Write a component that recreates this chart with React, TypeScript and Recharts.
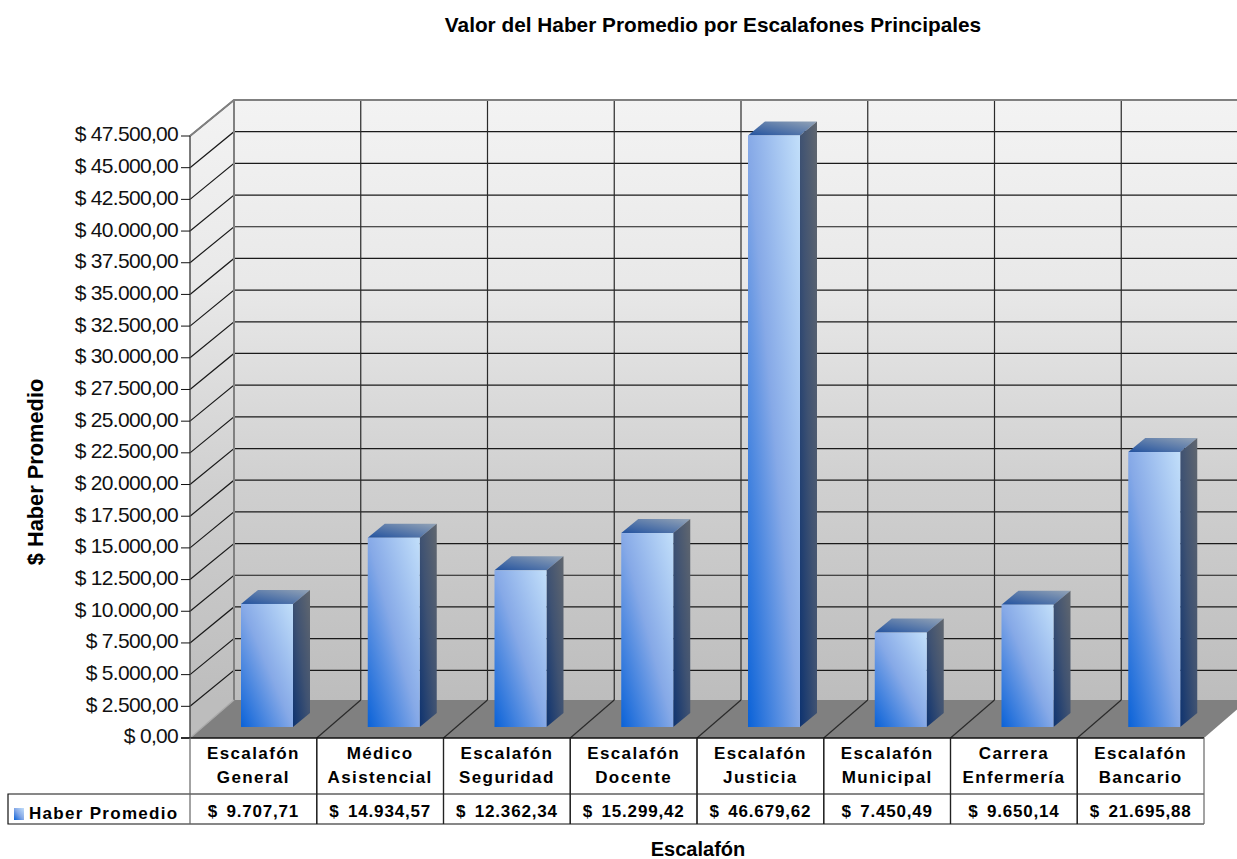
import { Bar, BarChart, CartesianGrid, XAxis, YAxis } from "recharts"

const categories = [
  "Escalafón General",
  "Médico Asistencial",
  "Escalafón Seguridad",
  "Escalafón Docente",
  "Escalafón Justicia",
  "Escalafón Municipal",
  "Carrera Enfermería",
  "Escalafón Bancario",
]
const haberPromedio = [9707.71, 14934.57, 12362.34, 15299.42, 46679.62, 7450.49, 9650.14, 21695.88]
const yTicks = [
  0, 2500, 5000, 7500, 10000, 12500, 15000, 17500, 20000, 22500, 25000, 27500, 30000, 32500, 35000,
  37500, 40000, 42500, 45000, 47500,
]

const data = categories.map((name, i) => ({ name, value: haberPromedio[i] }))

const FONT = "'Liberation Sans', Arial, sans-serif"
const BAND = 126.75

const money = (v: number) => {
  const [int, dec] = v.toFixed(2).split(".")
  return `${int.replace(/\B(?=(\d{3})+$)/g, ".")},${dec}`
}

// how far the back wall sits from the front plane
const wallDx = 44
const wallDy = -36

function Walls() {
  return (
    <svg width={1237} height={859} style={{ position: "absolute", left: 0, top: 0 }}>
      <defs>
        <linearGradient id="wall" gradientUnits="userSpaceOnUse" x1="0" y1="100" x2="0" y2="700">
          <stop offset="0" stopColor="#f3f3f3" />
          <stop offset="0.3" stopColor="#e9e9e9" />
          <stop offset="0.65" stopColor="#cfcfcf" />
          <stop offset="1" stopColor="#bdbdbd" />
        </linearGradient>
        <linearGradient id="front" x1="0" y1="1" x2="1" y2="0">
          <stop offset="0" stopColor="#0a62d8" />
          <stop offset="0.5" stopColor="#86a9e7" />
          <stop offset="1" stopColor="#c2dffa" />
        </linearGradient>
        <linearGradient id="side" x1="0" y1="1" x2="1" y2="0">
          <stop offset="0" stopColor="#0e3370" />
          <stop offset="0.5" stopColor="#3f5272" />
          <stop offset="1" stopColor="#61676f" />
        </linearGradient>
        <linearGradient id="top" x1="0" y1="1" x2="1" y2="0">
          <stop offset="0" stopColor="#22529f" />
          <stop offset="1" stopColor="#93a3b6" />
        </linearGradient>
      </defs>
      <rect x={234} y={100} width={1014} height={600} fill="url(#wall)" />
      <polygon points="190,136 234,100 234,700 190,738" fill="url(#wall)" />
      <polygon points="190,738 234,700 1248,700 1204,738" fill="#808080" />
    </svg>
  )
}

function WallOutline() {
  return (
    <g fill="none" stroke="#808080" strokeWidth={2}>
      <polyline points="190,136 234,100 1248,100" />
      <line x1={234} y1={100} x2={234} y2={700} />
      <line x1={190} y1={738} x2={234} y2={700} strokeWidth={1.3} stroke="#aaa" />
    </g>
  )
}

function BackLine(props: any) {
  const { x1, x2, y1 } = props
  if (y1 > 730) return <g />
  const back = y1 + wallDy
  return (
    <g stroke="#1a1a1a" strokeWidth={1.2}>
      <polyline points={`${x1},${y1} ${x1 + wallDx},${back} ${x2 + wallDx},${back}`} fill="none" />
    </g>
  )
}

function BoundaryLine(props: any) {
  const left = props.x1 - BAND / 2
  const right = left + wallDx
  if (left < 200 || props.x1 > 1200) return <g />
  return (
    <g stroke="#2a2a2a" strokeWidth={1.2} fill="none">
      <line x1={right} y1={100} x2={right} y2={700} />
      <line x1={left} y1={738} x2={right} y2={700} />
    </g>
  )
}

function Bar3D(props: any) {
  const { x, y, width, height } = props
  const fx = x + 14
  const fy = y - 11
  const sx = 17
  const sy = 14
  return (
    <g>
      <polygon
        points={`${fx},${fy} ${fx + width},${fy} ${fx + width + sx},${fy - sy} ${fx + sx},${fy - sy}`}
        fill="url(#top)"
      />
      <polygon
        points={`${fx + width},${fy} ${fx + width + sx},${fy - sy} ${fx + width + sx},${fy + height - sy} ${fx + width},${fy + height}`}
        fill="url(#side)"
      />
      <rect x={fx} y={fy} width={width} height={height} fill="url(#front)" />
    </g>
  )
}

function TableCell(props: any) {
  const { x, index } = props
  const [first, second] = categories[index].split(" ")
  const left = x - BAND / 2
  const text = { fontFamily: FONT, fontWeight: 700, fontSize: 17, fill: "#000", textAnchor: "middle" as const }
  return (
    <g>
      <text x={x} y={759} {...text} letterSpacing={1.4}>{first}</text>
      <text x={x} y={783} {...text} letterSpacing={1.4}>{second}</text>
      <text x={x} y={817} {...text} letterSpacing={0.8} style={{ wordSpacing: 3 }}>{`$ ${money(haberPromedio[index])}`}</text>
      <line x1={left} y1={738} x2={left} y2={824} stroke={index === 0 ? "#666" : "#222"} strokeWidth={1.2} />
      <line x1={left + BAND} y1={738} x2={left + BAND} y2={824} stroke={index === 7 ? "#666" : "#222"} strokeWidth={1.2} />
    </g>
  )
}

function TableFrame() {
  return (
    <g>
      <line x1={181} y1={738} x2={1204} y2={738} stroke="#111" strokeWidth={1.4} />
      <polyline points="190,794 8,794 8,824 1204,824" fill="none" stroke="#111" strokeWidth={1.2} />
      <line x1={190} y1={794} x2={1204} y2={794} stroke="#111" strokeWidth={1.2} />
      <rect x={14} y={808} width={10} height={12} fill="url(#front)" />
      <text x={29} y={819} fontFamily={FONT} fontWeight={700} fontSize={17} letterSpacing={1.3} fill="#000">
        Haber Promedio
      </text>
    </g>
  )
}

function Labels() {
  return (
    <g fontFamily={FONT} fontWeight={700} fill="#000" textAnchor="middle">
      <text x={713} y={32} fontSize={20.8}>Valor del Haber Promedio por Escalafones Principales</text>
      <text x={698} y={856} fontSize={20}>Escalafón</text>
      <text transform="translate(43,472) rotate(-90)" fontSize={21.8}>$ Haber Promedio</text>
    </g>
  )
}

export default function App() {
  return (
    <div style={{ position: "absolute", left: 0, top: 0, width: 1237, height: 859 }}>
      <Walls />
      <div style={{ position: "absolute", left: 0, top: 0 }}>
        <BarChart width={1237} height={859} data={data} margin={{ top: 136, right: 33, bottom: 0, left: 0 }} barSize={52}>
          <CartesianGrid horizontal={(p: any) => <BackLine key={p.key} {...p} />} vertical={(p: any) => <BoundaryLine key={p.key} {...p} />} />
          <WallOutline />
          <XAxis dataKey="name" interval={0} height={121} axisLine={false} tickLine={false} tick={(p: any) => <TableCell {...p} />} />
          <YAxis
            width={190}
            domain={[0, 47500]}
            ticks={yTicks}
            interval={0}
            tickSize={9}
            tickMargin={3}
            axisLine={{ stroke: "#444", strokeWidth: 1.4 }}
            tickLine={{ stroke: "#111" }}
            tick={{ fontFamily: FONT, fontSize: 21, letterSpacing: -0.7, fill: "#111", dy: -2 }}
            tickFormatter={(v: number) => `$ ${money(v)}`}
          />
          <Bar dataKey="value" isAnimationActive={false} shape={(p: any) => <Bar3D {...p} />} />
          <TableFrame />
          <Labels />
        </BarChart>
      </div>
    </div>
  )
}
